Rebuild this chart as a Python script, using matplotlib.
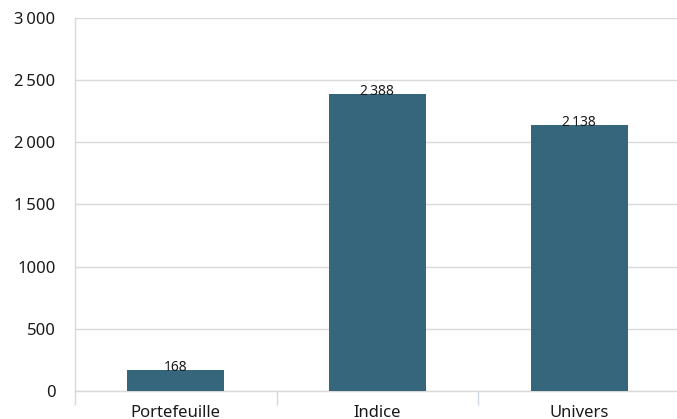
import matplotlib
matplotlib.use('Agg')
import matplotlib.pyplot as plt
from matplotlib.ticker import FixedLocator

plt.rcParams['font.family'] = ['Noto Sans', 'DejaVu Sans']

categories = ['Portefeuille', 'Indice', 'Univers']
values = [168, 2388, 2138]
value_labels = ['168', '2\u202f388', '2\u202f138']
y_ticks = [0, 500, 1000, 1500, 2000, 2500, 3000]
y_tick_labels = ['0', '500', '1000', '1\u202f500', '2\u202f000', '2\u202f500', '3\u202f000']

bar_color = '#36667c'
grid_color = '#d9d9d9'
sep_color = '#d0d8e4'
text_color = '#1a1a1a'

fig = plt.figure(figsize=(6.77, 4.19), dpi=100, facecolor='white')
ax = fig.add_axes([75 / 677, 1 - 391 / 419, (680 - 75) / 677, (391 - 18) / 419])

x = range(len(categories))
bars = ax.bar(x, values, width=0.48, color=bar_color, zorder=3)

for bar, lab in zip(bars, value_labels):
    ax.annotate(lab, (bar.get_x() + bar.get_width() / 2, bar.get_height()),
                xytext=(0, 2), textcoords='offset points',
                ha='center', va='center', fontsize=10, color=text_color, zorder=4)

ax.set_xlim(-0.5, len(categories) - 0.5)
ax.set_ylim(0, 3000)
ax.set_yticks(y_ticks)
ax.set_yticklabels(y_tick_labels)
ax.set_xticks(list(x))
ax.set_xticklabels(categories)
ax.xaxis.set_minor_locator(FixedLocator([-0.5, 0.5, 1.5]))

ax.tick_params(axis='y', length=0, pad=14, labelsize=12, labelcolor=text_color)
ax.tick_params(axis='x', which='major', length=0, pad=10, labelsize=12, labelcolor=text_color)
ax.tick_params(axis='x', which='minor', length=10, width=1, color=sep_color, direction='out')

ax.yaxis.grid(True, color=grid_color, linewidth=1, zorder=0)
ax.set_axisbelow(True)

for side in ['top', 'right']:
    ax.spines[side].set_visible(False)
for side in ['left', 'bottom']:
    ax.spines[side].set_color(grid_color)
    ax.spines[side].set_linewidth(1)

plt.savefig('out.png', dpi=100, facecolor='white')
